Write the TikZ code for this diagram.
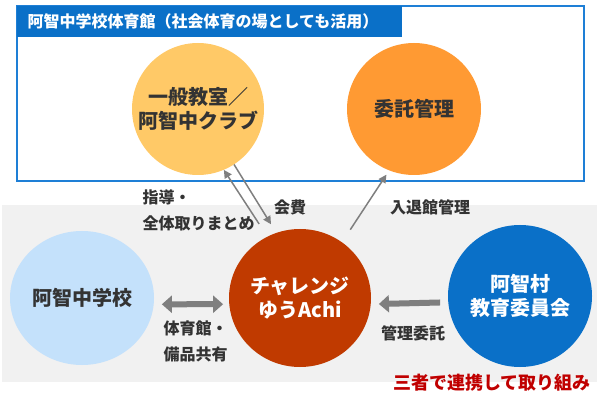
\documentclass[tikz,border=0pt]{standalone}
\usepackage{fontspec}
\setmainfont{Noto Sans CJK JP}
\usetikzlibrary{arrows.meta,shapes.geometric}

\definecolor{clubyellow}{HTML}{FFC967}
\definecolor{mgmtorange}{HTML}{FF9A33}
\definecolor{schoolblue}{HTML}{C4E1FB}
\definecolor{achired}{HTML}{C03A00}
\definecolor{boardblue}{HTML}{0A70C8}
\definecolor{framecol}{HTML}{1E7FD6}
\definecolor{bandgray}{HTML}{F1F1F1}
\definecolor{arrowgray}{HTML}{7F7F7F}
\definecolor{textdark}{HTML}{333333}
\definecolor{accentred}{HTML}{C00000}

\begin{document}
\begin{tikzpicture}[x=1pt,y=-1pt,
  bubble/.style={ellipse, draw=none, inner sep=0pt},
  bubtext/.style={align=center, text=textdark, font=\bfseries\fontsize{20}{24}\selectfont},
  lbl/.style={align=left, text=textdark, font=\bfseries\fontsize{16}{26}\selectfont},
  thin arrow/.style={draw=arrowgray, line width=1.5pt, -{Triangle[length=8pt,width=8pt]}},
  fat arrow/.style={draw=arrowgray, line width=6pt}]
  \useasboundingbox (0,0) rectangle (597,398);

  % background band and gym frame
  \fill[bandgray] (2,205) rectangle (597,382);
  \draw[framecol, line width=2pt, fill=white] (17,6) rectangle (584,181);
  \fill[boardblue] (17,6) rectangle (402,37);
  \node[anchor=west, text=white, font=\bfseries\fontsize{16}{20}\selectfont] (title) at (24,21)
    {阿智中学校体育館（社会体育の場としても活用）};

  % circles in the gym
  \node[bubble, fill=clubyellow, minimum width=132pt, minimum height=132pt] (club) at (198,109) {};
  \node[bubtext] (club-t) at (club) {一般教室／\\阿智中クラブ};
  \node[bubble, fill=mgmtorange, minimum width=134pt, minimum height=132pt] (mgmt) at (414,109) {};
  \node[bubtext] (mgmt-t) at (mgmt) {委託管理};

  % three partners
  \node[bubble, fill=schoolblue, minimum width=144pt, minimum height=134pt] (school) at (82,298) {};
  \node[bubtext] (school-t) at (school) {阿智中学校};
  \node[bubble, fill=achired, minimum width=142pt, minimum height=138pt] (achi) at (300,298) {};
  \node[bubtext, text=white] (achi-t) at (achi) {チャレンジ\\ゆうAchi};
  \node[bubble, fill=boardblue, minimum width=144pt, minimum height=142pt] (board) at (520,296) {};
  \node[bubtext, text=white] (board-t) at (board) {阿智村\\教育委員会};

  % connectors
  \draw[thin arrow, shorten <=15pt] (achi.118) -- (club.-67);
  \draw[thin arrow, shorten >=10pt] (club.-57) -- (achi.110);
  \draw[thin arrow, shorten <=15pt, shorten >=5pt] (achi.53) -- (mgmt.-112);
  \draw[fat arrow, {Triangle[length=10pt,width=17pt]}-{Triangle[length=10pt,width=17pt]},
    shorten <=8pt, shorten >=6pt] (school.-5) -- (achi.185);
  \draw[fat arrow, -{Triangle[length=10pt,width=17pt]},
    shorten <=8pt, shorten >=8pt] (board.185) -- (achi.-5);

  % labels
  \node[lbl, anchor=west] (lead) at (139,210) {指導・\\全体取りまとめ};
  \node[lbl] (fee) at (290,207) {会費};
  \node[lbl] (entry) at (430,207) {入退館管理};
  \node[lbl, anchor=west] (share) at (160,341) {体育館・\\備品共有};
  \node[lbl] (entrust) at (413,333) {管理委託};
  \node[text=accentred, font=\bfseries\fontsize{18}{22}\selectfont] (joint) at (492,383)
    {三者で連携して取り組み};
\end{tikzpicture}
\end{document}
